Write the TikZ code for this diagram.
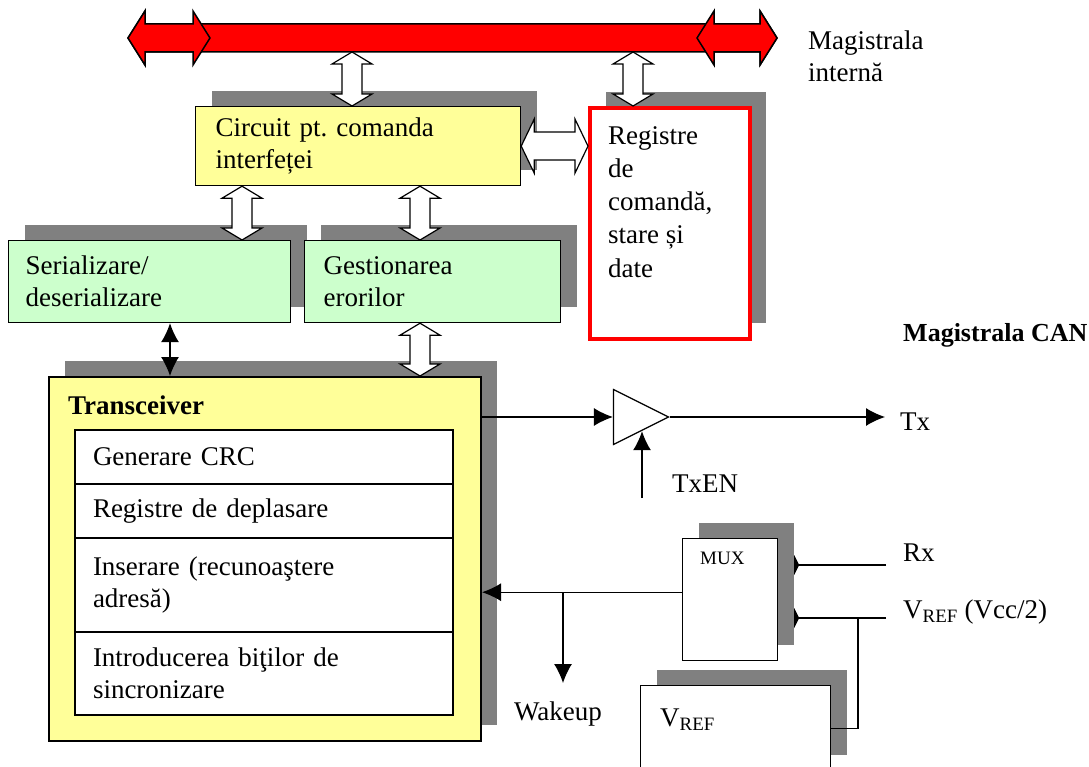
\documentclass[tikz,border=0pt]{standalone}
\usepackage{fontspec}
\setmainfont{Liberation Serif}
\usetikzlibrary{arrows.meta,positioning,calc,shadows,backgrounds,shapes.geometric}
\definecolor{busred}{HTML}{FF0000}
\definecolor{shade}{HTML}{808080}
\definecolor{paleyellow}{HTML}{FFFF99}
\definecolor{palegreen}{HTML}{CCFFCC}
\frenchspacing
\tikzset{
  >={Latex[length=19pt,width=18pt]},
  every node/.style={font=\fontsize{27}{32}\selectfont,text=black,inner sep=0pt},
  dropshadow/.style={general shadow={fill=shade,shadow xshift=16pt,shadow yshift=16pt}},
  block/.style={draw=black,line width=1.2pt,dropshadow,align=left,anchor=north west},
  yellowblock/.style={block,fill=paleyellow},
  greenblock/.style={block,fill=palegreen},
  regblock/.style={block,fill=white,draw=busred,line width=4pt},
  whiteblock/.style={block,fill=white},
  rowbox/.style={draw=black,line width=1.2pt,fill=white,align=left,outer sep=0pt,inner xsep=18pt,text width=342pt},
  boxtitle/.style={anchor=north west,align=left,xshift=20pt,yshift=-20pt},
  buffer/.style={isosceles triangle,isosceles triangle stretches,draw=black,line width=1.2pt,fill=white,minimum width=55pt,minimum height=55pt},
  whitebus/.style={draw=black,line width=1.2pt,fill=white,line join=miter},
  redbus/.style={draw=black,line width=1.5pt,fill=busred,line join=miter},
  sig/.style={draw=black,line width=1.2pt},
  muxin/.style={sig,-{Kite[length=21pt,width=20pt,inset=5pt]}},
  tag/.style={anchor=west}
}
% wide double arrow: [style]{from}{to}{shaft half}{head half}{head length}
\newcommand{\dblarrow}[6][whitebus]{%
  \draw[#1] #2 -- ($#2!#6!#3!#5!90:#3$) -- ($#2!#6!#3!#4!90:#3$)
    -- ($#3!#6!#2!#4!-90:#2$) -- ($#3!#6!#2!#5!-90:#2$) -- #3
    -- ($#3!#6!#2!#5!90:#2$) -- ($#3!#6!#2!#4!90:#2$)
    -- ($#2!#6!#3!#4!-90:#3$) -- ($#2!#6!#3!#5!-90:#3$) -- cycle;}

\begin{document}
\begin{tikzpicture}[x=1pt,y=-1pt]
  \useasboundingbox (0,0) rectangle (1089,767);

  % internal bus
  \coordinate (busL) at (128,38);
  \coordinate (busLi) at (210,38);
  \coordinate (busRi) at (697,38);
  \coordinate (busR) at (777,38);
  \dblarrow[redbus]{(busL)}{(busR)}{14pt}{27pt}{17pt}
  \dblarrow[redbus]{(busL)}{(busLi)}{14pt}{27pt}{17pt}
  \dblarrow[redbus]{(busRi)}{(busR)}{14pt}{27pt}{17pt}
  \node[tag,align=left] (busname) at (808,56) {Magistrala\\internă};

  % blocks
  \node[yellowblock,inner xsep=20pt,text width=285pt,minimum height=79pt] (circ) at (195,106) {Circuit pt. comanda\\interfeței};
  \node[regblock,minimum width=160pt,minimum height=231pt,
    label={[boxtitle,font=\fontsize{27}{33.3}\selectfont]north west:Registre\\de\\comandă,\\stare și\\date}] (reg) at (588,106) {};
  \node[greenblock,inner xsep=17pt,text width=248pt,minimum height=82pt] (ser) at (8,240) {Serializare/\\deserializare};
  \node[greenblock,inner xsep=19pt,text width=218pt,minimum height=82pt] (err) at (304,240) {Gestionarea\\erorilor};
  \node[yellowblock,line width=2pt,minimum width=432pt,minimum height=364pt,
    label={[boxtitle]north west:\bfseries Transceiver}] (trx) at (48,376) {};
  \node[rowbox,minimum height=54pt,anchor=north west] (crc) at (75,430) {Generare CRC};
  \node[rowbox,minimum height=54pt,below=0pt of crc] (shiftreg) {Registre de deplasare};
  \node[rowbox,minimum height=94pt,below=0pt of shiftreg] (addr) {Inserare (recunoaştere\\adresă)};
  \node[rowbox,minimum height=83pt,below=0pt of addr] (sync) {Introducerea biţilor de\\sincronizare};
  \node[whiteblock,minimum width=95pt,minimum height=122pt,
    label={[boxtitle,xshift=-2pt,yshift=6pt,font=\fontsize{19}{23}\selectfont]north west:MUX}] (mux) at (682,538) {};
  \node[whiteblock,minimum width=190pt,minimum height=85pt,
    label={[boxtitle,yshift=-4pt]north west:V\textsubscript{REF}}] (vrefbox) at (640,685) {};

  % bus links
  \coordinate (tap1) at (352,52);
  \coordinate (tap2) at (633,52);
  \coordinate (colA) at (242,0);
  \coordinate (colB) at (420,0);
  \coordinate (colC) at (170,0);
  \dblarrow{(tap1)}{(tap1 |- circ.north)}{10pt}{20pt}{12pt}
  \dblarrow{(tap2)}{(tap2 |- reg.north)}{10pt}{20pt}{12pt}
  \dblarrow{(circ.east)}{(circ.east -| reg.west)}{14pt}{27pt}{13pt}
  \dblarrow{(colA |- circ.south)}{(colA |- ser.north)}{10pt}{20pt}{12pt}
  \dblarrow{(colB |- circ.south)}{(colB |- err.north)}{10pt}{20pt}{12pt}
  \dblarrow{(colB |- err.south)}{(colB |- trx.north)}{10pt}{20pt}{12pt}
  \draw[sig,<->] (colC |- ser.south) -- (colC |- trx.north);

  % CAN side
  \node[tag,font=\fontsize{26}{32}\selectfont\bfseries] (canname) at (903,335) {Magistrala CAN};
  \node[buffer] (buf) at (630.5,417) {};
  \node[tag] (tx) at (900,422) {Tx};
  \node[tag] (txenname) at (672,484) {TxEN};
  \node[tag] (rx) at (903,553) {Rx};
  \node[tag] (vreftag) at (903,612) {V\textsubscript{REF} (Vcc/2)};
  \node (wake) at (558,714) {Wakeup};
  \coordinate (txend) at (885,417);
  \coordinate (txen) at (642,498);
  \coordinate (rxin) at (886,565);
  \coordinate (vrefin) at (886,618);
  \coordinate (vj) at (858,618);
  \coordinate (muxout) at ($(mux.north west)!0.44!(mux.south west)$);
  \coordinate (wakeend) at (563,683);

  \draw[sig,->] (trx.east |- buf.west) -- (buf.west);
  \draw[sig,->] (buf.apex) -- (txend);
  \draw[sig,->] (txen) -- (txen |- buf.right side);
  \draw[sig,->] (muxout) -- (muxout -| trx.east);
  \draw[sig,->] (wakeend |- muxout) -- (wakeend);
  \draw[sig] (vrefbox.east) -| (vj);
  \begin{scope}[on background layer]
    \draw[muxin] (rxin) -- (rxin -| mux.east);
    \draw[muxin] (vrefin) -- (vrefin -| mux.east);
  \end{scope}
\end{tikzpicture}
\end{document}
